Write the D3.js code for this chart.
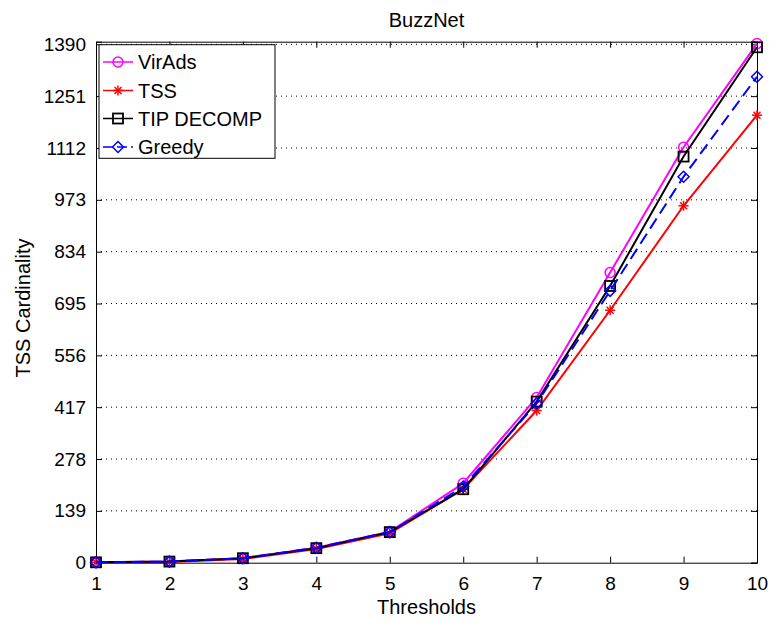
<!DOCTYPE html>
<html><head><meta charset="utf-8">
<script src="https://d3js.org/d3.v7.min.js"></script>
<style>body{margin:0;background:#fff}svg{display:block}text{font-family:"Liberation Sans",Arial,sans-serif}</style>
</head><body>
<script>
const thresholds = [1,2,3,4,5,6,7,8,9,10];
const yTicks = [0,139,278,417,556,695,834,973,1112,1251,1390];
const virAds = [1,3,12,40,83,213,443,778,1114,1392];
const tss = [1,2,10,37,79,197,408,677,957,1200];
const tipDecomp = [1,3,12,39,82,197,432,742,1089,1382];
const greedy = [1,3,12,40,82,204,427,729,1035,1303];
const seriesNames = ["VirAds","TSS","TIP DECOMP","Greedy"];

const W=771,H=623;
const m={l:96,r:757,t:41.7,b:562.7};
const svg=d3.select("body").append("svg").attr("width",W).attr("height",H);
const x=d3.scaleLinear().domain([1,10]).range([m.l,m.r]);
const y=d3.scaleLinear().domain([0,1397]).range([m.b,m.t]);

// grid
svg.append("g").selectAll("line").data(yTicks.filter(d=>d>0)).join("line")
 .attr("x1",m.l).attr("x2",m.r).attr("y1",d=>y(d)).attr("y2",d=>y(d))
 .attr("stroke","#000").attr("stroke-width",1).attr("stroke-dasharray","1,4");

// axes
const fs=19;
const ax=svg.append("g").attr("transform",`translate(0,${m.b})`)
 .call(d3.axisBottom(x).tickValues(thresholds).tickSize(-6).tickPadding(14).tickFormat(d3.format("d")));
const ay=svg.append("g").attr("transform",`translate(${m.l},0)`)
 .call(d3.axisLeft(y).tickValues(yTicks).tickSize(-6).tickPadding(10).tickFormat(d3.format("d")));
const at=svg.append("g").attr("transform",`translate(0,${m.t})`)
 .call(d3.axisTop(x).tickValues(thresholds).tickSize(-6).tickFormat(""));
const ar=svg.append("g").attr("transform",`translate(${m.r},0)`)
 .call(d3.axisRight(y).tickValues(yTicks).tickSize(-6).tickFormat(""));
[ax,ay,at,ar].forEach(g=>{
 g.select(".domain").attr("stroke","#000").attr("stroke-width",1);
 g.selectAll(".tick line").attr("stroke","#000");
 g.selectAll("text").attr("font-size",fs).attr("fill","#000").attr("font-family","Liberation Sans, Arial, sans-serif");
});

// series
const series=[
 {name:seriesNames[0],vals:virAds,color:"#ff00ff",marker:"circle",dash:null},
 {name:seriesNames[1],vals:tss,color:"#ff0000",marker:"star",dash:null},
 {name:seriesNames[2],vals:tipDecomp,color:"#000000",marker:"square",dash:null},
 {name:seriesNames[3],vals:greedy,color:"#0000ff",marker:"diamond",dash:"12,6"}
];
function drawMarker(g,type,cx,cy,color){
 if(type==="circle") g.append("circle").attr("cx",cx).attr("cy",cy).attr("r",5).attr("fill","none").attr("stroke",color).attr("stroke-width",1.5);
 else if(type==="square") g.append("rect").attr("x",cx-5).attr("y",cy-5).attr("width",10).attr("height",10).attr("fill","none").attr("stroke",color).attr("stroke-width",1.8);
 else if(type==="diamond") g.append("path").attr("d",`M${cx},${cy-5.5}L${cx+5.5},${cy}L${cx},${cy+5.5}L${cx-5.5},${cy}Z`).attr("fill","none").attr("stroke",color).attr("stroke-width",1.5);
 else if(type==="star"){
  const r=5;
  const p=[[0,-r,0,r],[-r,0,r,0],[-r*.7,-r*.7,r*.7,r*.7],[-r*.7,r*.7,r*.7,-r*.7]];
  p.forEach(q=>g.append("line").attr("x1",cx+q[0]).attr("y1",cy+q[1]).attr("x2",cx+q[2]).attr("y2",cy+q[3]).attr("stroke",color).attr("stroke-width",1.5));
 }
}
const line=d3.line().x((d,i)=>x(thresholds[i])).y(d=>y(d));
series.forEach(s=>{
 const g=svg.append("g");
 g.append("path").attr("d",line(s.vals)).attr("fill","none").attr("stroke",s.color).attr("stroke-width",2)
  .attr("stroke-dasharray",s.dash);
 s.vals.forEach((v,i)=>drawMarker(g,s.marker,x(thresholds[i]),y(v),s.color));
});

// legend
const lg=svg.append("g");
lg.append("rect").attr("x",99).attr("y",44.7).attr("width",176).attr("height",113.6).attr("fill","#fff").attr("stroke","#000").attr("stroke-width",1);
const ly=[62,90.5,118.5,147];
series.forEach((s,i)=>{
 lg.append("line").attr("x1",103).attr("x2",133).attr("y1",ly[i]).attr("y2",ly[i]).attr("stroke",s.color).attr("stroke-width",1.5)
  .attr("stroke-dasharray",s.dash?"10,4":null);
 drawMarker(lg,s.marker,118,ly[i],s.color);
 lg.append("text").attr("x",138).attr("y",ly[i]+7).attr("font-size",20).text(s.name);
});

// labels
svg.append("text").attr("x",426.5).attr("y",27).attr("text-anchor","middle").attr("font-size",20).text("BuzzNet");
svg.append("text").attr("x",426.5).attr("y",614).attr("text-anchor","middle").attr("font-size",20).text("Thresholds");
svg.append("text").attr("transform","translate(30,308) rotate(-90)").attr("text-anchor","middle").attr("font-size",20).text("TSS Cardinality");
</script>
</body></html>
